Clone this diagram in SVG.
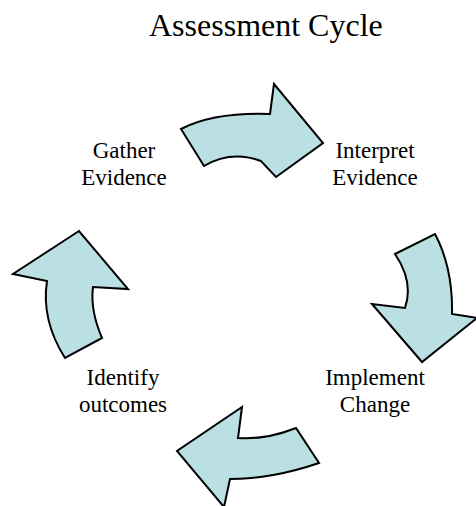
<svg xmlns="http://www.w3.org/2000/svg" width="476" height="506" viewBox="0 0 476 506">
<style>
.arrow{fill:#BBE0E3;stroke:#000;stroke-width:2;stroke-linejoin:miter}
.t{font-family:"Liberation Serif","Times New Roman",serif;fill:#000}
.lbl{font-size:23px;text-anchor:middle}
</style>
<rect width="476" height="506" fill="#fff"/>
<text class="t" x="149" y="36" font-size="32">Assessment Cycle</text>
<g id="connectors">
<path class="arrow" d="M181,129 Q214,112 270,114 L274,84 L323,143 L276,177 L261,161 Q231,150 204,166 Z"/>
<path class="arrow" d="M395,254 L435,234 Q453,268 452,314 L477,318 L422,362 L372,304 L405,308 Q414,282 395,254 Z"/>
<path class="arrow" d="M296,428 Q266,440 238,438 L242,407 L177,451 L224,507 L230,479 Q272,479 319,463 Z"/>
<path class="arrow" d="M79,231 L13,274 L47,281 Q41,320 65,358 L102,338 Q90,310 93,287 L128,289 Z"/>
</g>
<g id="gather"><text class="t lbl" x="124" y="158">Gather</text><text class="t lbl" x="124" y="185">Evidence</text></g>
<g id="interpret"><text class="t lbl" x="375" y="158">Interpret</text><text class="t lbl" x="375" y="185">Evidence</text></g>
<g id="implement"><text class="t lbl" x="375" y="385">Implement</text><text class="t lbl" x="375" y="412">Change</text></g>
<g id="identify"><text class="t lbl" x="123" y="385">Identify</text><text class="t lbl" x="123" y="412">outcomes</text></g>
</svg>
